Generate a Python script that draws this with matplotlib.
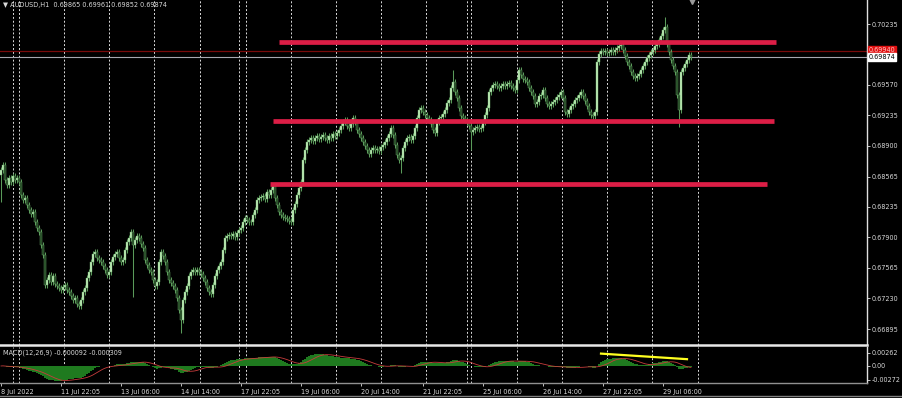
import numpy as np
import matplotlib
matplotlib.use("Agg")
import matplotlib.pyplot as plt
from matplotlib.lines import Line2D
import matplotlib.transforms as mtransforms

# ---------------- data ----------------
symbol_title = "\u25bc AUDUSD,H1  0.69865 0.69961 0.69852 0.69874"
macd_title = "MACD(12,26,9) -0.000092 -0.000309"

first_open = 0.68580
closes = [
    0.68636, 0.68691, 0.68527, 0.68472, 0.68549, 0.68505, 0.68571, 0.68527, 0.68549, 0.68505,
    0.68363, 0.68308, 0.68330, 0.68253, 0.68198, 0.68155, 0.68177, 0.68067, 0.68001, 0.67958,
    0.67815, 0.67706, 0.67377, 0.67432, 0.67487, 0.67410, 0.67476, 0.67388, 0.67366, 0.67344,
    0.67322, 0.67355, 0.67377, 0.67322, 0.67301, 0.67257, 0.67213, 0.67235, 0.67169, 0.67147,
    0.67213, 0.67301, 0.67344, 0.67454, 0.67520, 0.67629, 0.67717, 0.67739, 0.67673, 0.67651,
    0.67629, 0.67585, 0.67541, 0.67487, 0.67520, 0.67629, 0.67684, 0.67717, 0.67739, 0.67673,
    0.67629, 0.67651, 0.67760, 0.67848, 0.67892, 0.67958, 0.67815, 0.67870, 0.67914, 0.67892,
    0.67826, 0.67782, 0.67651, 0.67596, 0.67541, 0.67520, 0.67432, 0.67366, 0.67410, 0.67629,
    0.67739, 0.67695, 0.67629, 0.67520, 0.67432, 0.67399, 0.67366, 0.67322, 0.67235, 0.67103,
    0.66994, 0.67213, 0.67301, 0.67366, 0.67476, 0.67520, 0.67541, 0.67520, 0.67541, 0.67520,
    0.67498, 0.67454, 0.67410, 0.67344, 0.67301, 0.67279, 0.67377, 0.67476, 0.67541, 0.67585,
    0.67629, 0.67760, 0.67892, 0.67914, 0.67925, 0.67914, 0.67936, 0.67903, 0.67947, 0.67979,
    0.68001, 0.68067, 0.68111, 0.68089, 0.68067, 0.68067, 0.68144, 0.68198, 0.68308, 0.68330,
    0.68341, 0.68352, 0.68319, 0.68396, 0.68363, 0.68417, 0.68461, 0.68330, 0.68253, 0.68177,
    0.68144, 0.68122, 0.68111, 0.68100, 0.68078, 0.68067, 0.68198, 0.68264, 0.68363, 0.68439,
    0.68505, 0.68746, 0.68855, 0.68943, 0.68965, 0.68987, 0.68954, 0.68987, 0.69009, 0.68976,
    0.68998, 0.69020, 0.68987, 0.68965, 0.69009, 0.68987, 0.69031, 0.69009, 0.69042, 0.69074,
    0.69118, 0.69162, 0.69184, 0.69118, 0.69096, 0.69140, 0.69206, 0.69162, 0.69074, 0.69031,
    0.68987, 0.68943, 0.68899, 0.68855, 0.68812, 0.68855, 0.68877, 0.68855, 0.68866, 0.68845,
    0.68888, 0.68910, 0.68943, 0.68987, 0.69031, 0.69096, 0.69020, 0.68910, 0.68801, 0.68746,
    0.68768, 0.68877, 0.68943, 0.68987, 0.68998, 0.68965, 0.69009, 0.69096, 0.69206, 0.69293,
    0.69315, 0.69272, 0.69239, 0.69206, 0.69184, 0.69140, 0.69074, 0.69042, 0.69162, 0.69206,
    0.69217, 0.69250, 0.69293, 0.69370, 0.69403, 0.69534, 0.69600, 0.69491, 0.69425, 0.69315,
    0.69228, 0.69206, 0.69184, 0.69162, 0.69118, 0.69053, 0.69074, 0.69096, 0.69107, 0.69085,
    0.69096, 0.69162, 0.69239, 0.69315, 0.69491, 0.69534, 0.69567, 0.69578, 0.69556, 0.69534,
    0.69556, 0.69578, 0.69556, 0.69578, 0.69589, 0.69556, 0.69534, 0.69512, 0.69622, 0.69731,
    0.69677, 0.69633, 0.69622, 0.69600, 0.69534, 0.69491, 0.69447, 0.69359, 0.69381, 0.69447,
    0.69458, 0.69512, 0.69425, 0.69359, 0.69337, 0.69359, 0.69381, 0.69403, 0.69436, 0.69458,
    0.69491, 0.69425, 0.69272, 0.69250, 0.69293, 0.69337, 0.69359, 0.69403, 0.69425, 0.69458,
    0.69491, 0.69447, 0.69392, 0.69337, 0.69272, 0.69239, 0.69228, 0.69272, 0.69819, 0.69907,
    0.69940, 0.69929, 0.69940, 0.69918, 0.69929, 0.69950, 0.69929, 0.69950, 0.69972, 0.69994,
    0.70005, 0.69950, 0.69885, 0.69819, 0.69775, 0.69710, 0.69666, 0.69644, 0.69666, 0.69688,
    0.69731, 0.69775, 0.69819, 0.69863, 0.69896, 0.69929, 0.69950, 0.69994, 0.70016, 0.70060,
    0.70104, 0.70169, 0.70202, 0.70016, 0.69929, 0.69841, 0.69775, 0.69710, 0.69458, 0.69293,
    0.69710, 0.69753, 0.69797, 0.69841, 0.69896, 0.69874,
]
# notable long wicks: bar index -> (kind, price)
wick_extremes = {
    0: ("low", 0.68290), 66: ("low", 0.67246), 90: ("low", 0.66851), 200: ("low", 0.68604),
    226: ("high", 0.69731), 235: ("low", 0.68855), 332: ("high", 0.70312), 339: ("low", 0.69107),
}
wick_size = 0.00028

levels = [0.70038, 0.69173, 0.68483]
level_spans = [(139, 387.5), (136, 386.5), (134.5, 383)]

bid = 0.69874
ask = 0.69940
price_ticks = [0.70235, 0.69570, 0.69235, 0.68900, 0.68565, 0.68235,
               0.67900, 0.67565, 0.67230, 0.66895]
price_tick_labels = ["0.70235", "0.69570", "0.69235", "0.68900", "0.68565", "0.68235",
                     "0.67900", "0.67565", "0.67230", "0.66895"]

time_labels = ["8 Jul 2022", "11 Jul 22:05", "13 Jul 06:00", "14 Jul 14:00", "17 Jul 22:05",
               "19 Jul 06:00", "20 Jul 14:00", "21 Jul 22:05", "25 Jul 06:00", "26 Jul 14:00",
               "27 Jul 22:05", "29 Jul 06:00"]
time_label_bars = [0, 30, 60, 90, 120, 150, 180, 211, 241, 271, 301, 331]
separator_bars = [6, 9, 31.5, 54, 76.5, 99.5, 119, 122.5, 145, 167.5, 190, 212.5,
                  233, 235, 258, 280.5, 303, 325.5, 348.5]

macd_ticks = [0.00262, 0.0, -0.00272]
macd_tick_labels = ["0.00262", "0.00", "-0.00272"]
macd_trend_x = [300, 343]
macd_trend_y = [0.00245, 0.00135]

# ---------------- derived ----------------
c = np.array(closes)
o = np.concatenate([[first_open], c[:-1]])
h = np.maximum(o, c) + wick_size
l = np.minimum(o, c) - wick_size
for i, (kind, p) in wick_extremes.items():
    if kind == "high":
        h[i] = p
    else:
        l[i] = p
idx = np.arange(len(c))


def ema(a, n):
    k = 2.0 / (n + 1)
    out = np.empty_like(a)
    out[0] = a[0]
    for i in range(1, len(a)):
        out[i] = a[i] * k + out[i - 1] * (1 - k)
    return out


macd = ema(c, 12) - ema(c, 26)
signal = np.array([macd[max(0, i - 8):i + 1].mean() for i in range(len(macd))])

# ---------------- figure ----------------
W, H = 902, 398
fig = plt.figure(figsize=(W / 100, H / 100), dpi=100, facecolor="black")
axw = 867 / W
ax = fig.add_axes([0, 1 - 345 / H, axw, 345 / H], facecolor="black")
axm = fig.add_axes([0, 1 - 383 / H, axw, 36 / H], facecolor="black")

txtc = "#d8d8d8"
fs = 4.7

for a in (ax, axm):
    a.set_xlim(-0.5, 433)
    for s in ("top", "left"):
        a.spines[s].set_visible(False)
    a.spines["right"].set_color("#e0e0e0")
    a.spines["right"].set_linewidth(1.0)
    a.yaxis.tick_right()
    a.tick_params(axis="y", colors="#e0e0e0", labelcolor=txtc, labelsize=fs,
                  length=2.5, width=0.6, pad=0.8)
    for xb in separator_bars:
        a.axvline(xb, color="#dcdcdc", lw=0.7, ls=(0, (2, 2)), zorder=1)

ax.spines["bottom"].set_color("#e8e8e8")
ax.spines["bottom"].set_linewidth(1.8)
axm.spines["bottom"].set_color("#909090")
axm.spines["bottom"].set_linewidth(1.0)

ax.set_ylim(0.66720, 0.70498)
ax.set_yticks(price_ticks)
ax.set_yticklabels(price_tick_labels)
ax.set_xticks([])

# candles
up = c >= o
ax.vlines(idx, l, h, color="#5a9a5a", lw=0.75, zorder=3)
ax.bar(idx[up], (c - o)[up], bottom=o[up], width=0.6, color="#c4f0bc",
       edgecolor="#6aa86a", linewidth=0.3, zorder=4)
ax.bar(idx[~up], (c - o)[~up], bottom=o[~up], width=0.6, color="#1c3f1c",
       edgecolor="#6aa86a", linewidth=0.3, zorder=4)

# support / resistance
for lv, (x0, x1) in zip(levels, level_spans):
    ax.plot([x0, x1], [lv, lv], color="#dc1e46", lw=3.4, solid_capstyle="butt", zorder=5)

# bid / ask lines
ax.axhline(ask, color="#7a0a0a", lw=0.9, zorder=2)
ax.axhline(bid, color="#a8a8b0", lw=0.8, zorder=2)
trans = mtransforms.blended_transform_factory(ax.transAxes, ax.transData)
ax.text(1.002, ask + 0.00012, "%.5f" % ask, transform=trans, fontsize=fs, color="#ffc8c8",
        va="center", ha="left", clip_on=False,
        bbox=dict(boxstyle="square,pad=0.12", fc="#e01010", ec="#e01010"))
ax.text(1.002, bid, "%.5f" % bid, transform=trans, fontsize=fs, color="black",
        va="center", ha="left", clip_on=False, zorder=6,
        bbox=dict(boxstyle="square,pad=0.12", fc="white", ec="white"))

ax.text(0.004, 0.995, symbol_title, transform=ax.transAxes, fontsize=fs,
        color=txtc, va="top", ha="left")
ax.plot([345.5], [0.70485], marker="v", color="#9a9a9a", ms=5, zorder=6, clip_on=False)

# MACD panel
axm.bar(idx, macd, width=0.8, color="#1f7a1f", zorder=3)
axm.plot(idx, signal, color="#c83c3c", lw=0.6, zorder=4)
axm.plot(macd_trend_x, macd_trend_y, color="#ffff20", lw=1.6, zorder=5)
axm.set_ylim(-0.00337, 0.00376)
axm.set_yticks(macd_ticks)
axm.set_yticklabels(macd_tick_labels)
axm.text(0.003, 0.93, macd_title, transform=axm.transAxes, fontsize=fs,
         color=txtc, va="top", ha="left")
axm.set_xticks(time_label_bars)
axm.set_xticklabels(time_labels)
axm.tick_params(axis="x", colors="#e0e0e0", labelcolor=txtc, labelsize=fs,
                length=2.5, width=0.6, pad=1.5)
for t in axm.get_xticklabels():
    t.set_ha("left")

fig.add_artist(Line2D([0, 1], [2 / H, 2 / H], color="#808080", lw=1.0))

fig.savefig("out.png", dpi=100, facecolor="black")
